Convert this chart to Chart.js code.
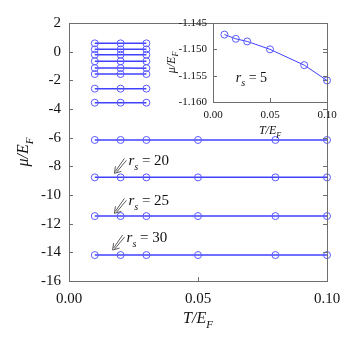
<!DOCTYPE html>
<html>
<head>
<meta charset="utf-8">
<script src="https://cdn.jsdelivr.net/npm/chart.js@4"></script>
<style>
  body { margin: 0; background: #fff; }
  #wrap { position: relative; width: 354px; height: 347px; }
  #mainChart { position: absolute; left: 0; top: 0; }
  #insetChart { position: absolute; left: 150px; top: 0; }
</style>
</head>
<body>
<div id="wrap">
  <canvas id="mainChart" width="354" height="347"></canvas>
  <canvas id="insetChart" width="204" height="145"></canvas>
</div>
<script>
// temperatures (T/E_F)
const tShort = [0.01, 0.02, 0.03];
const tLong = [0.01, 0.02, 0.03, 0.05, 0.08, 0.10];

// small r_s, only low temperatures
const muS1 = [0.58, 0.58, 0.58];
const muS2 = [0.16, 0.16, 0.16];
const muS3 = [-0.21, -0.21, -0.21];
const muS4 = [-0.67, -0.67, -0.67];
const muS5 = [-1.147, -1.148, -1.149];
const muS6 = [-1.56, -1.56, -1.56];
const muS7 = [-2.58, -2.58, -2.58];
const muS8 = [-3.56, -3.56, -3.56];

// large r_s, full temperature range
const muL15 = [-6.16, -6.16, -6.16, -6.16, -6.16, -6.16];
const muL20 = [-8.77, -8.77, -8.77, -8.77, -8.77, -8.77];
const muL25 = [-11.47, -11.47, -11.47, -11.47, -11.47, -11.47];
const muL30 = [-14.19, -14.19, -14.19, -14.19, -14.19, -14.19];

// inset: r_s = 5
const insetT = [0.01, 0.02, 0.03, 0.05, 0.08, 0.10];
const insetMu = [-1.1472, -1.1480, -1.1485, -1.1500, -1.1530, -1.1559];

// axis ticks
const mainYMin = -16, mainYMax = 2, mainYStep = 2;
const mainXMin = 0, mainXMax = 0.10, mainXStep = 0.05;
const insetYMin = -1.160, insetYMax = -1.145, insetYStep = 0.005;

// labelled curves: [label, tip T, tip mu]
const arrowLabels = [
    ['20', 0.0176, -8.49],
    ['25', 0.0176, -11.28],
    ['30', 0.0169, -13.84]
];

const serif = '"Liberation Serif", "Times New Roman", serif';
const lineBlue = '#4040ff';
const pointBlue = '#5a5aff';
const axisGray = '#6e6e6e';
const textColor = '#111';

function series(xs, ys) {
    return xs.map((x, i) => ({ x: x, y: ys[i] }));
}

function makeDataset(xs, ys, width, radius) {
    return {
        data: series(xs, ys),
        showLine: true,
        borderColor: lineBlue,
        borderWidth: width,
        pointRadius: radius,
        pointBorderColor: pointBlue,
        pointBorderWidth: 1,
        pointBackgroundColor: 'rgba(0,0,0,0)',
        clip: false
    };
}

// text like "mu/E_F" or "r_s = 20", parts: [text, italic, subscript]
function partFont(p, size) {
    return (p[1] ? 'italic ' : '') + (p[2] ? Math.round(size * 0.68) : size) + 'px ' + serif;
}
function partsWidth(ctx, parts, size) {
    let w = 0;
    parts.forEach(p => { ctx.font = partFont(p, size); w += ctx.measureText(p[0]).width; });
    return w;
}
function drawParts(ctx, parts, x, y, size) {
    ctx.textAlign = 'left';
    ctx.textBaseline = 'alphabetic';
    ctx.fillStyle = textColor;
    let cx = x;
    parts.forEach(p => {
        ctx.font = partFont(p, size);
        ctx.fillText(p[0], cx, p[2] ? y + size * 0.3 : y);
        cx += ctx.measureText(p[0]).width;
    });
}
function drawCentered(ctx, parts, cx, y, size) {
    drawParts(ctx, parts, cx - partsWidth(ctx, parts, size) / 2, y, size);
}
function drawRotated(ctx, parts, cx, cy, size) {
    ctx.save();
    ctx.translate(cx, cy);
    ctx.rotate(-Math.PI / 2);
    drawParts(ctx, parts, -partsWidth(ctx, parts, size) / 2, size * 0.3, size);
    ctx.restore();
}

function drawFrame(chart, tickLen, xTicksBottom) {
    const ctx = chart.ctx;
    const a = chart.chartArea;
    const xs = chart.scales.x, ys = chart.scales.y;
    ctx.save();
    ctx.strokeStyle = axisGray;
    ctx.lineWidth = 1;
    ctx.strokeRect(Math.round(a.left) + 0.5, Math.round(a.top) + 0.5,
        Math.round(a.right - a.left), Math.round(a.bottom - a.top));
    ctx.beginPath();
    ys.ticks.forEach(t => {
        const py = Math.round(ys.getPixelForValue(t.value)) + 0.5;
        ctx.moveTo(a.left, py); ctx.lineTo(a.left + tickLen, py);
        ctx.moveTo(a.right, py); ctx.lineTo(a.right - tickLen, py);
    });
    if (xTicksBottom) {
        xs.ticks.forEach(t => {
            const px = Math.round(xs.getPixelForValue(t.value)) + 0.5;
            ctx.moveTo(px, a.bottom); ctx.lineTo(px, a.bottom - tickLen);
        });
    }
    ctx.stroke();
    ctx.restore();
}

const muTitle = [['\u03bc/E', true, false], ['F', true, true]];
const tTitle = [['T/E', true, false], ['F', true, true]];

const mainDecor = {
    id: 'mainDecor',
    afterDraw(chart) {
        const ctx = chart.ctx;
        const a = chart.chartArea;
        const xs = chart.scales.x, ys = chart.scales.y;
        drawFrame(chart, 4, true);
        drawCentered(ctx, tTitle, (a.left + a.right) / 2, 323, 16);
        drawRotated(ctx, muTitle, 23, (a.top + a.bottom) / 2, 16);

        // r_s labels with arrows
        arrowLabels.forEach(l => {
            const tx = xs.getPixelForValue(l[1]);
            const ty = ys.getPixelForValue(l[2]);
            const ex = tx + 11, ey = ty - 14;
            ctx.save();
            ctx.strokeStyle = '#333';
            ctx.lineWidth = 0.8;
            ctx.beginPath();
            // double shaft
            ctx.moveTo(ex - 1, ey - 1); ctx.lineTo(tx + 1, ty - 2);
            ctx.moveTo(ex + 1, ey + 1); ctx.lineTo(tx + 2, ty - 1);
            // open head
            ctx.moveTo(tx + 1, ty - 7); ctx.lineTo(tx, ty); ctx.lineTo(tx + 7, ty - 2);
            ctx.stroke();
            ctx.restore();
            drawParts(ctx, [['r', true, false], ['s', true, true], [' = ' + l[0], false, false]],
                tx + 14, ty - 8, 15);
        });
    }
};

const insetDecor = {
    id: 'insetDecor',
    afterDraw(chart) {
        const ctx = chart.ctx;
        const a = chart.chartArea;
        const xs = chart.scales.x, ys = chart.scales.y;
        drawFrame(chart, 4, true);
        drawCentered(ctx, tTitle, (a.left + a.right) / 2, 134, 12);
        drawRotated(ctx, muTitle, 21, (a.top + a.bottom) / 2, 12);
        drawParts(ctx, [['r', true, false], ['s', true, true], [' = 5', false, false]],
            xs.getPixelForValue(0.02), ys.getPixelForValue(-1.1562), 14);
    }
};

const tickFmt2 = v => Number(v).toFixed(2);

new Chart(document.getElementById('mainChart').getContext('2d'), {
    type: 'scatter',
    data: {
        datasets: [
            makeDataset(tShort, muS1, 1.5, 3.5),
            makeDataset(tShort, muS2, 1.5, 3.5),
            makeDataset(tShort, muS3, 1.5, 3.5),
            makeDataset(tShort, muS4, 1.5, 3.5),
            makeDataset(tShort, muS5, 1.5, 3.5),
            makeDataset(tShort, muS6, 1.5, 3.5),
            makeDataset(tShort, muS7, 1.5, 3.5),
            makeDataset(tShort, muS8, 1.5, 3.5),
            makeDataset(tLong, muL15, 1.5, 3.5),
            makeDataset(tLong, muL20, 1.5, 3.5),
            makeDataset(tLong, muL25, 1.5, 3.5),
            makeDataset(tLong, muL30, 1.5, 3.5)
        ]
    },
    options: {
        responsive: false,
        animation: false,
        events: [],
        layout: { padding: { left: 0, right: 27, top: 23, bottom: 0 } },
        plugins: { legend: { display: false }, tooltip: { enabled: false } },
        scales: {
            x: {
                type: 'linear',
                min: mainXMin, max: mainXMax,
                afterFit: s => { s.height = 66; },
                grid: { display: false, drawTicks: false },
                border: { display: false },
                ticks: { stepSize: mainXStep, padding: 9, color: textColor,
                    font: { family: serif, size: 15 }, callback: tickFmt2, maxRotation: 0 }
            },
            y: {
                type: 'linear',
                min: mainYMin, max: mainYMax,
                afterFit: s => { s.width = 69; },
                grid: { display: false, drawTicks: false },
                border: { display: false },
                ticks: { stepSize: mainYStep, padding: 8, color: textColor,
                    font: { family: serif, size: 15 } }
            }
        }
    },
    plugins: [mainDecor]
});

new Chart(document.getElementById('insetChart').getContext('2d'), {
    type: 'scatter',
    data: {
        datasets: [makeDataset(insetT, insetMu, 1, 3.5)]
    },
    options: {
        responsive: false,
        animation: false,
        events: [],
        layout: { padding: { left: 0, right: 27, top: 23, bottom: 0 } },
        plugins: { legend: { display: false }, tooltip: { enabled: false } },
        scales: {
            x: {
                type: 'linear',
                min: mainXMin, max: mainXMax,
                afterFit: s => { s.height = 43; },
                grid: { display: false, drawTicks: false },
                border: { display: false },
                ticks: { stepSize: mainXStep, padding: 7, color: textColor,
                    font: { family: serif, size: 11 }, callback: tickFmt2, maxRotation: 0 }
            },
            y: {
                type: 'linear',
                min: insetYMin, max: insetYMax,
                afterFit: s => { s.width = 63; },
                grid: { display: false, drawTicks: false },
                border: { display: false },
                ticks: { stepSize: insetYStep, padding: 6, color: textColor,
                    font: { family: serif, size: 11 }, callback: v => Number(v).toFixed(3) }
            }
        }
    },
    plugins: [insetDecor]
});
</script>
</body>
</html>
